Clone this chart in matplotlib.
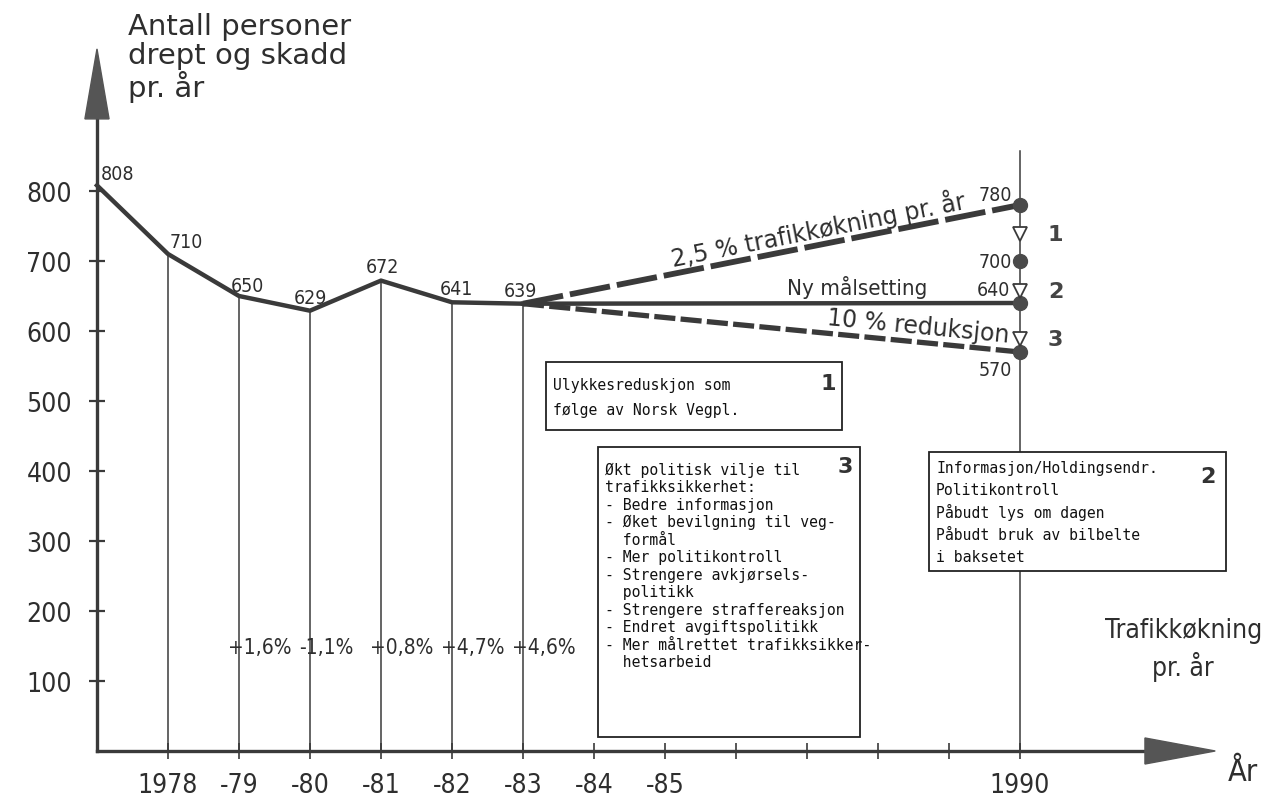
"""
Antall drepte og skadde pr. år, med prognoser mot 1990
"""

import numpy as np
import matplotlib.pyplot as plt
from matplotlib.patches import Rectangle

# data lest av figuren
years = [1977, 1978, 1979, 1980, 1981, 1982, 1983]
persons = [808, 710, 650, 629, 672, 641, 639]

growth_years = [1979, 1980, 1981, 1982, 1983]
growth_labels = ['+1,6%', '-1,1%', '+0,8%', '+4,7%', '+4,6%']

target_year = 1990
upper_value = 780      # 2,5 % trafikkøkning pr. år
goal_value = 640       # ny målsetting
lower_value = 570      # 10 % reduksjon
level_values = [780, 700, 640, 570]
step_values = [739, 657, 589]
step_labels = ['1', '2', '3']

ytick_values = [100, 200, 300, 400, 500, 600, 700, 800]
xtick_years = list(range(1978, 1991))
xtick_labels = ['1978', '-79', '-80', '-81', '-82', '-83', '-84', '-85',
                '', '', '', '', '1990']

box1_lines = ["Ulykkesreduskjon som", "følge av Norsk Vegpl."]
box2_lines = ["Informasjon/Holdingsendr.", "Politikontroll", "Påbudt lys om dagen",
              "Påbudt bruk av bilbelte", "i baksetet"]
box3_lines = ["Økt politisk vilje til", "trafikksikkerhet:", "- Bedre informasjon",
              "- Øket bevilgning til veg-", "  formål", "- Mer politikontroll",
              "- Strengere avkjørsels-", "  politikk", "- Strengere straffereaksjon",
              "- Endret avgiftspolitikk", "- Mer målrettet trafikksikker-",
              "  hetsarbeid"]

INK = '#3a3a3a'
TXT = '#2e2e2e'

plt.rcParams['font.family'] = ['DejaVu Sans']
plt.rcParams['font.stretch'] = 'condensed'

fig = plt.figure(figsize=(12.67, 8.04), dpi=100)
ax = fig.add_axes([0, 0, 1, 1])
ax.set_xlim(1975.634, 1993.479)
ax.set_ylim(-74.3, 1074.3)

# akser
for side in ['top', 'right']:
    ax.spines[side].set_visible(False)
ax.spines['left'].set_position(('data', 1977))
ax.spines['bottom'].set_position(('data', 0))
ax.spines['left'].set_bounds(0, 905)
ax.spines['bottom'].set_bounds(1977, 1991.8)
for side in ['left', 'bottom']:
    ax.spines[side].set_linewidth(2.4)
    ax.spines[side].set_color(INK)

ax.set_yticks(ytick_values)
ax.set_yticklabels([str(v) for v in ytick_values])
ax.set_xticks(xtick_years)
ax.set_xticklabels(xtick_labels)
ax.tick_params(axis='y', direction='inout', length=12, width=1.6, color=INK,
               pad=12, labelsize=19, labelcolor=TXT)
ax.tick_params(axis='x', direction='inout', length=12, width=1.2, color=INK,
               pad=9, labelsize=19, labelcolor=TXT)

# pilspisser
ax.fill([1976.83, 1977.17, 1977.0], [903, 903, 1003], color='#555555', zorder=3,
        clip_on=False)
ax.fill([1991.76, 1991.76, 1992.75], [-18.6, 18.6, 0], color='#555555', zorder=3,
        clip_on=False)

# tynne loddlinjer fra hvert år
for yr, val in zip(years[1:], persons[1:]):
    ax.plot([yr, yr], [0, val], color=INK, lw=1.1, zorder=1)
ax.plot([target_year, target_year], [0, 857], color=INK, lw=1.1, zorder=1)

# hovedkurve
ax.plot(years, persons, color=INK, lw=3.2, solid_joinstyle='round', zorder=3)

# prognoser
x0, y0 = years[-1], persons[-1]
ax.plot([x0, target_year], [y0, upper_value], color=INK, lw=4.2,
        dashes=(7, 1.2), zorder=3)
ax.plot([x0, target_year], [y0, goal_value], color=INK, lw=3.2, zorder=3)
ax.plot([x0, target_year], [y0, lower_value], color=INK, lw=3.8,
        dashes=(4, 1), zorder=3)

ax.plot([target_year] * len(level_values), level_values, 'o', ms=10,
        color='#4a4a4a', zorder=5)
ax.plot([target_year] * len(step_values), step_values, 'v', ms=10,
        mfc='white', mec=INK, mew=1.3, zorder=5)
for val, lab in zip(step_values, step_labels):
    ax.annotate(lab, (target_year, val), xytext=(20, 0), textcoords='offset points',
                ha='left', va='center', fontsize=16, fontweight='bold',
                color='#444444', fontstretch='normal')

# verdietiketter
label_offsets = [(3, 2), (1, 2), (6, 1), (0, 3), (1, 3), (3, 3), (-2, 3)]
label_ha = ['left', 'left', 'center', 'center', 'center', 'center', 'center']
for yr, val, off, ha in zip(years, persons, label_offsets, label_ha):
    ax.annotate(str(val), (yr, val), xytext=off, textcoords='offset points',
                ha=ha, va='bottom', fontsize=14, color=TXT)

level_offsets = [(-6, 1), (-6, 0), (-7, 3), (-6, -6)]
level_va = ['bottom', 'center', 'bottom', 'top']
for val, off, va in zip(level_values, level_offsets, level_va):
    ax.annotate(str(val), (target_year, val), xytext=off, textcoords='offset points',
                ha='right', va=va, fontsize=14, color=TXT)

# tekst langs prognoselinjene
px_per_year = 1267 / (1993.479 - 1975.634)
px_per_unit = 804 / (1074.3 + 74.3)


def line_angle(v1):
    return np.degrees(np.arctan2((v1 - y0) * px_per_unit,
                                 (target_year - x0) * px_per_year))


def on_line(v1, yr):
    return y0 + (v1 - y0) * (yr - x0) / (target_year - x0)


xu = 1987.2
ax.annotate('2,5 % trafikkøkning pr. år', (xu, on_line(upper_value, xu)),
            xytext=(0, 2), textcoords='offset points', ha='center', va='bottom',
            rotation=line_angle(upper_value), rotation_mode='anchor',
            fontsize=17, fontstretch='normal', color=TXT)
ax.annotate('Ny målsetting', (1987.7, on_line(goal_value, 1987.7)),
            xytext=(0, 4), textcoords='offset points', ha='center', va='bottom',
            fontsize=16, color=TXT)
xl = 1988.55
ax.annotate('10 % reduksjon', (xl, on_line(lower_value, xl)),
            xytext=(0, 3), textcoords='offset points', ha='center', va='bottom',
            rotation=line_angle(lower_value), rotation_mode='anchor',
            fontsize=17, fontstretch='normal', color=TXT)

# trafikkøkning pr. år
for yr, lab in zip(growth_years, growth_labels):
    ax.annotate(lab, (yr, 149), xytext=(-8, 0), textcoords='offset points',
                ha='left', va='center', fontsize=15, color=TXT)

# tekstbokser: (venstre, nede, høyre, oppe), linjer, nummer,
# første linje og linjeavstand i pt, plassering av nummer i pt
boxes = [
    (1983.32, 458.6, 1987.49, 555.7, box1_lines, '1', 16, 18.0, (-10, -15)),
    (1984.06, 20.0, 1987.75, 434.3, box3_lines, '3', 16, 12.6, (-11, -14)),
    (1988.72, 257.0, 1992.90, 427.0, box2_lines, '2', 11, 16.0, (-13, -17)),
]
for xa, ya, xb, yb, lines, num, first, step, num_off in boxes:
    ax.add_patch(Rectangle((xa, ya), xb - xa, yb - ya, facecolor='white',
                           edgecolor='#222222', lw=1.3, zorder=6))
    for i, line in enumerate(lines):
        ax.annotate(line, (xa, yb), xytext=(5, -first - i * step),
                    textcoords='offset points', ha='left', va='center',
                    fontsize=10.6, family='DejaVu Sans Mono', fontstretch='normal',
                    color='#111111', zorder=7)
    ax.annotate(num, (xb, yb), xytext=num_off, textcoords='offset points',
                ha='center', va='center', fontsize=16, fontweight='bold',
                color='#333333', fontstretch='normal', zorder=7)

# aksetitler
ax.text(1977.44, 1056, 'Antall personer\ndrept og skadd\npr. år', ha='left',
        va='top', fontsize=21, linespacing=1.05, fontstretch='normal', color=TXT)
ax.text(1992.3, 191, 'Trafikkøkning\npr. år', ha='center', va='top',
        fontsize=19, linespacing=1.3, color=TXT)
ax.text(1992.93, -30, 'År', ha='left', va='center', fontsize=22, color=TXT)

fig.savefig('out.png', dpi=100, facecolor='white')
